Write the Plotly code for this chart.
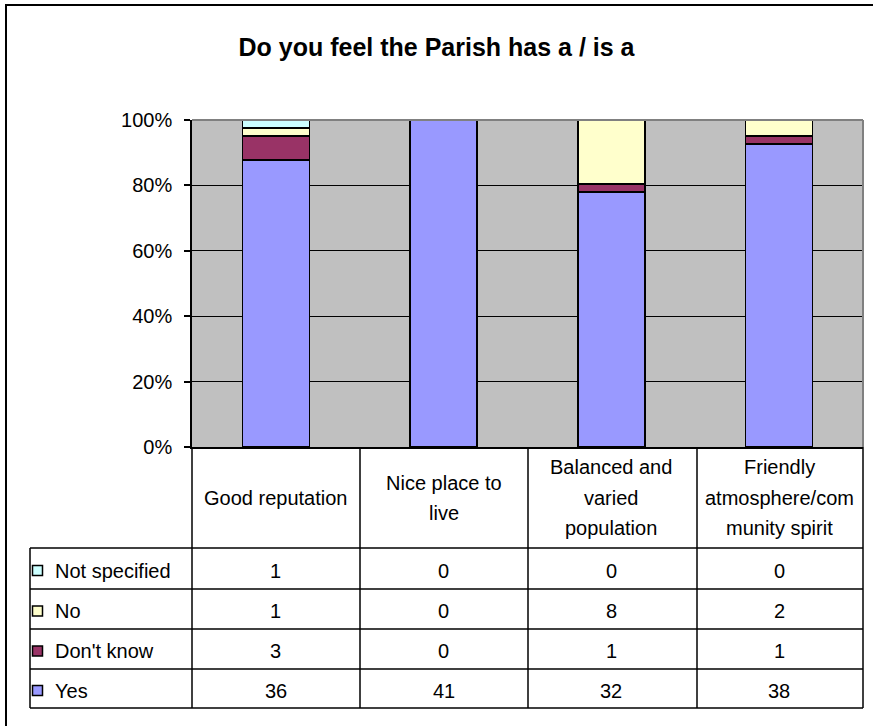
import plotly.graph_objects as go

# survey question and answers
title = "Do you feel the Parish has a / is a"
categories = ["Good reputation", "Nice place to live",
              "Balanced and varied population", "Friendly atmosphere/community spirit"]
header_lines = [["Good reputation"],
                ["Nice place to", "live"],
                ["Balanced and", "varied", "population"],
                ["Friendly", "atmosphere/com", "munity spirit"]]

yes = [36, 41, 32, 38]
dont_know = [3, 0, 1, 1]
no = [1, 0, 8, 2]
not_specified = [1, 0, 0, 0]

series = [("Yes", yes, "#9999FF"),
          ("Don't know", dont_know, "#993366"),
          ("No", no, "#FFFFCC"),
          ("Not specified", not_specified, "#CCFFFF")]

W, H = 873, 726
PX0, PX1, PY0, PY1 = 192, 863, 120, 447   # plot area in pixels
FONT = "Liberation Sans, Arial, sans-serif"


def px(p):
    return (p - PX0) / (PX1 - PX0)


def py(p):
    return (PY1 - p) / (PY1 - PY0)


fig = go.Figure()
for name, vals, col in series:
    fig.add_trace(go.Bar(x=categories, y=vals, name=name,
                         marker=dict(color=col, line=dict(color="black", width=1.5))))

fig.update_layout(
    width=W, height=H,
    margin=dict(l=PX0, r=W - PX1, t=PY0, b=H - PY1),
    barmode="stack", barnorm="percent", bargap=0.6,
    plot_bgcolor="#C0C0C0", paper_bgcolor="white",
    showlegend=False,
    font=dict(family=FONT, color="black", size=20),
    title=dict(text="<b>" + title + "</b>", x=0.5, xanchor="center",
               y=1 - 47 / H, yanchor="middle", yref="container",
               font=dict(family=FONT, size=25, color="black")),
)
fig.update_xaxes(showticklabels=False, range=[-0.5, 3.5], showline=True,
                 linecolor="black", linewidth=1.5, ticks="", showgrid=False)
fig.update_yaxes(range=[0, 100], dtick=20, ticksuffix="%", showline=True,
                 linecolor="black", linewidth=1.5, ticks="outside", ticklen=6,
                 tickcolor="black", tickwidth=1.5, ticklabelstandoff=8,
                 gridcolor="black", gridwidth=1, zeroline=False,
                 tickfont=dict(size=20))

shapes = []
line = dict(color="black", width=1.5)
# gray plot-area border top and right
shapes.append(dict(type="line", xref="paper", yref="paper", x0=0, x1=1, y0=1, y1=1,
                   line=dict(color="#808080", width=2)))
shapes.append(dict(type="line", xref="paper", yref="paper", x0=1, x1=1, y0=0, y1=1,
                   line=dict(color="#808080", width=2)))
# outer chart border (runs off the right and bottom)
shapes.append(dict(type="rect", xref="paper", yref="paper",
                   x0=px(6), x1=px(900), y0=py(5), y1=py(760),
                   line=dict(color="black", width=2)))

# data table
row_edges = [548, 589, 629, 669, 708]
col_edges = [PX0, 360, 528, 697, PX1]
for c in col_edges:
    shapes.append(dict(type="line", xref="paper", yref="paper", x0=px(c), x1=px(c),
                       y0=py(PY1), y1=py(row_edges[-1]), line=line))
shapes.append(dict(type="line", xref="paper", yref="paper", x0=px(30), x1=px(30),
                   y0=py(row_edges[0]), y1=py(row_edges[-1]), line=line))
for r in row_edges:
    shapes.append(dict(type="line", xref="paper", yref="paper", x0=px(30), x1=px(PX1),
                       y0=py(r), y1=py(r), line=line))

annotations = []
# header cells
for i, lines in enumerate(header_lines):
    n = len(lines)
    for k, t in enumerate(lines):
        yc = (PY1 + row_edges[0]) / 2 + (k - (n - 1) / 2) * 30
        annotations.append(dict(text=t, x=i, xref="x", y=py(yc), yref="paper",
                                showarrow=False, xanchor="center", yanchor="middle",
                                font=dict(size=20)))
# rows: top row is top of stack
for r, (name, vals, col) in enumerate(reversed(series)):
    yc = (row_edges[r] + row_edges[r + 1]) / 2 + 2
    shapes.append(dict(type="rect", xref="paper", yref="paper",
                       x0=px(32.5), x1=px(42.5), y0=py(yc - 5), y1=py(yc + 5),
                       fillcolor=col, line=dict(color="black", width=1.5)))
    annotations.append(dict(text=name, x=px(53), xref="paper", y=py(yc), yref="paper",
                            showarrow=False, xanchor="left", yanchor="middle",
                            font=dict(size=20)))
    for i, v in enumerate(vals):
        annotations.append(dict(text=str(v), x=i, xref="x", y=py(yc), yref="paper",
                                showarrow=False, xanchor="center", yanchor="middle",
                                font=dict(size=20)))

fig.update_layout(shapes=shapes, annotations=annotations)
# drop the page's default body margin so the figure sits at the window origin
fig.write_html("out.html", config={"displayModeBar": False},
               post_script="document.body.style.margin='0';")
